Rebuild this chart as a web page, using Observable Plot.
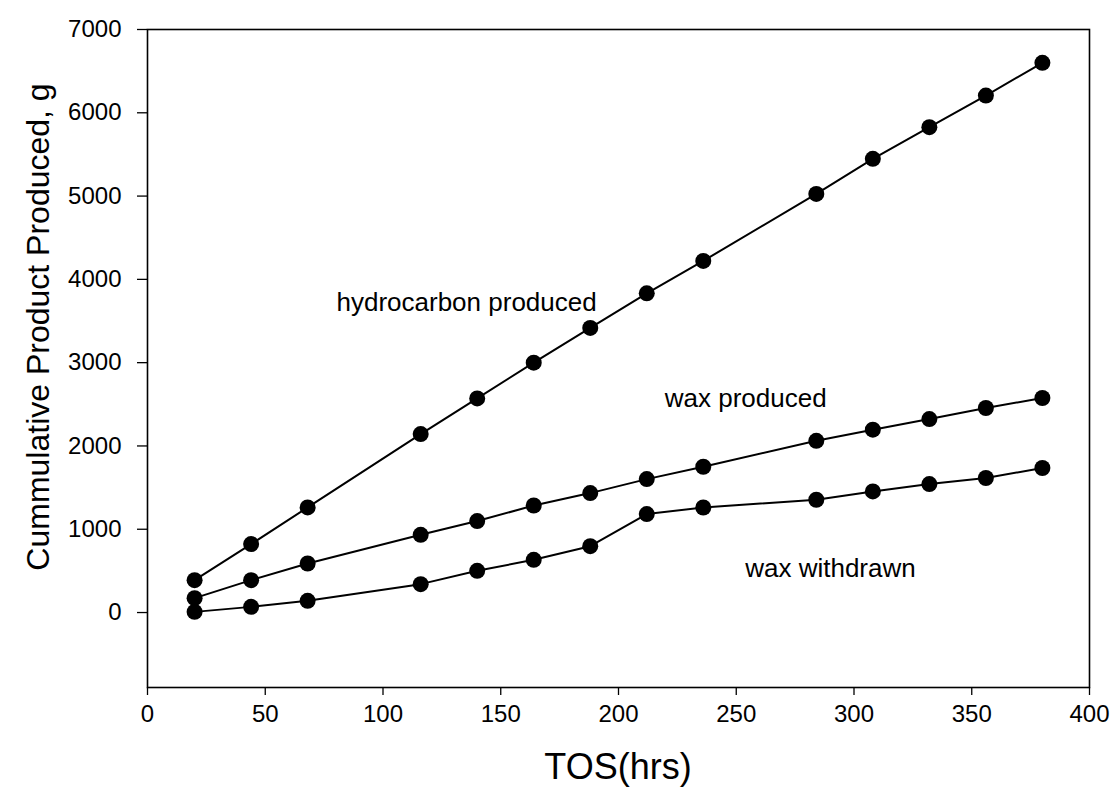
<!DOCTYPE html>
<html>
<head>
<meta charset="utf-8">
<script src="https://cdn.jsdelivr.net/npm/d3@7"></script>
<script src="https://cdn.jsdelivr.net/npm/@observablehq/plot@0.6"></script>
<style>
  html, body { margin: 0; padding: 0; background: #fff; }
  #chart svg { display: block; }
</style>
</head>
<body>
<div id="chart"></div>
<script>
const tos = [20, 44, 68, 116, 140, 164, 188, 212, 236, 284, 308, 332, 356, 380];
const hydrocarbonProduced = [389, 822, 1262, 2143, 2571, 3000, 3417, 3832, 4222, 5026, 5447, 5827, 6207, 6600];
const waxProduced = [173, 389, 589, 933, 1098, 1285, 1434, 1602, 1750, 2062, 2195, 2323, 2456, 2576];
const waxWithdrawn = [8, 68, 141, 341, 501, 633, 797, 1182, 1261, 1354, 1454, 1542, 1615, 1735];
const xTicks = [0, 50, 100, 150, 200, 250, 300, 350, 400];
const yTicks = [0, 1000, 2000, 3000, 4000, 5000, 6000, 7000];
const seriesNames = ["hydrocarbon produced", "wax produced", "wax withdrawn"];
const annotations = [
  {label: "hydrocarbon produced", x: 135.5, y: 3720},
  {label: "wax produced", x: 254, y: 2567},
  {label: "wax withdrawn", x: 290, y: 525}
];

const seriesValues = [hydrocarbonProduced, waxProduced, waxWithdrawn];
const data = seriesNames.flatMap((name, i) =>
  tos.map((t, j) => ({series: name, tos: t, value: seriesValues[i][j]}))
);

const W = 1115, H = 793;
const font = "'Liberation Sans', Arial, sans-serif";

const plot = Plot.plot({
  width: W,
  height: H,
  marginLeft: 147,
  marginRight: 26,
  marginTop: 29,
  marginBottom: 106,
  style: {fontFamily: font, fontSize: "24px", color: "#000", background: "#fff"},
  x: {domain: [0, 400]},
  y: {domain: [-900, 7000]},
  marks: [
    Plot.axisX({ticks: xTicks, tickFormat: d => String(d), tickSize: 8, tickPadding: 9, label: null, fontSize: 24, stroke: "#000", strokeWidth: 1.3}),
    Plot.axisY({ticks: yTicks, tickFormat: d => String(d), tickSize: 10, tickPadding: 16, label: null, fontSize: 24, stroke: "#000", strokeWidth: 1.3}),
    Plot.frame({stroke: "#000", strokeWidth: 1.6}),
    Plot.line(data, {x: "tos", y: "value", z: "series", stroke: "#000", strokeWidth: 2}),
    Plot.dot(data, {x: "tos", y: "value", r: 8, fill: "#000", stroke: "none"}),
    Plot.text(annotations, {x: "x", y: "y", text: "label", fontSize: 26, fill: "#000", textAnchor: "middle"})
  ]
});

const svg = d3.select(plot);
svg.selectAll('g[aria-label="x-axis tick label"], g[aria-label="y-axis tick label"]')
  .attr("font-size", 24)
  .selectAll("text").attr("font-size", null);
svg.selectAll('g[aria-label="text"]').attr("font-size", 26)
  .selectAll("text").attr("font-size", null);

svg.append("text")
  .attr("transform", "translate(38,327) rotate(-90)")
  .attr("text-anchor", "middle")
  .attr("dominant-baseline", "central")
  .attr("font-family", font)
  .attr("font-size", 32)
  .attr("fill", "#000")
  .text("Cummulative Product Produced, g");
svg.append("text")
  .attr("x", 618)
  .attr("y", 766)
  .attr("text-anchor", "middle")
  .attr("dominant-baseline", "central")
  .attr("font-family", font)
  .attr("font-size", 36)
  .attr("fill", "#000")
  .text("TOS(hrs)");

document.getElementById("chart").appendChild(plot);
</script>
</body>
</html>
